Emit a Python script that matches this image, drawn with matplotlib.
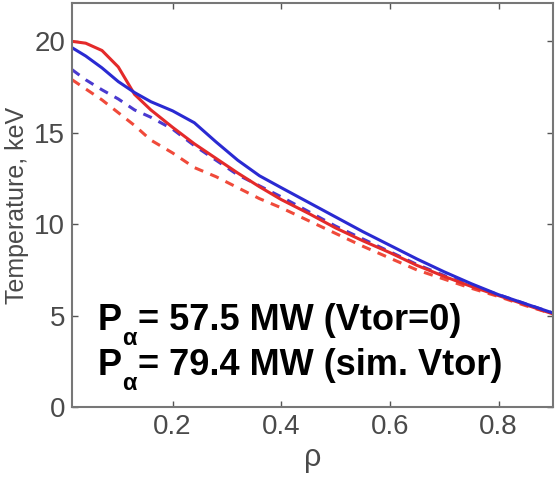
import matplotlib
matplotlib.use("Agg")
import matplotlib.pyplot as plt

# Profile data
rho = [0.015, 0.04, 0.07, 0.1, 0.13, 0.16, 0.2, 0.24, 0.28, 0.32, 0.36, 0.4,
       0.45, 0.5, 0.55, 0.6, 0.65, 0.7, 0.75, 0.8, 0.85, 0.9]

te_blue = [19.65, 19.2, 18.55, 17.8, 17.2, 16.7, 16.2, 15.55, 14.5, 13.5, 12.65, 12.0,
           11.2, 10.4, 9.6, 8.85, 8.1, 7.4, 6.75, 6.15, 5.65, 5.15]
ti_blue = [18.45, 17.9, 17.35, 16.85, 16.25, 15.85, 15.2, 14.3, 13.5, 12.7, 12.1, 11.5,
           10.7, 9.9, 9.2, 8.5, 7.8, 7.2, 6.65, 6.15, 5.65, 5.15]
te_red = [20.0, 19.9, 19.5, 18.6, 17.1, 16.25, 15.3, 14.4, 13.6, 12.8, 12.05, 11.35,
          10.6, 9.8, 9.1, 8.45, 7.75, 7.15, 6.6, 6.1, 5.6, 5.1]
ti_red = [17.9, 17.4, 16.8, 16.1, 15.4, 14.6, 13.9, 13.1, 12.6, 12.0, 11.4, 10.9,
          10.2, 9.5, 8.8, 8.15, 7.5, 7.0, 6.5, 6.05, 5.55, 5.1]

x_ticks = [0.2, 0.4, 0.6, 0.8]
y_ticks = [0, 5, 10, 15, 20]

labels_power = ["= 57.5 MW (Vtor=0)", "= 79.4 MW (sim. Vtor)"]

plt.rcParams["font.family"] = ["Liberation Sans", "DejaVu Sans"]

fig = plt.figure(figsize=(5.59, 4.90), dpi=100)
ax = fig.add_axes([0.129, 0.169, 0.860, 0.825])

blue = "#2a2ad2"
red = "#e42a2a"
ax.plot(rho, ti_red, color="#f04a3a", lw=2.2, ls=(0, (3, 2.5)))
ax.plot(rho, ti_blue, color="#4a3ad0", lw=2.2, ls=(0, (3, 2.5)))
ax.plot(rho, te_red, color=red, lw=2.2)
ax.plot(rho, te_blue, color=blue, lw=2.2)

ax.set_xlim(0.015, 0.9)
ax.set_ylim(0, 22.1)
ax.set_xticks(x_ticks)
ax.set_xticklabels(["0.2", "0.4", "0.6", "0.8"])
ax.set_yticks(y_ticks)

grey = "#555555"
ax.tick_params(direction="in", length=4, width=1, color=grey, labelcolor="#4a4a4a",
               labelsize=20, top=True, right=True, pad=5)
for s in ax.spines.values():
    s.set_color("#777777")
    s.set_linewidth(1.5)

ax.set_ylabel("Temperature, keV", fontsize=18, color="#4a4a4a")
ax.yaxis.set_label_coords(-0.09, 0.5)
ax.set_xlabel("ρ", fontsize=22, color="#4a4a4a", labelpad=2)

# P_alpha annotations: P, lowered alpha, then the rest of the line
for y0, rest in zip([4.2, 1.75], labels_power):
    tp = ax.text(0.0625, y0, "P", fontsize=26, fontweight="bold", color="black",
                 va="baseline")
    ta = ax.annotate("α", xy=(1, 0), xycoords=tp, xytext=(0.5, -5),
                     textcoords="offset points", fontsize=17, fontweight="bold",
                     va="baseline", ha="left")
    ax.annotate(rest, xy=(1, 0), xycoords=(ta, tp), xytext=(0.5, 0),
                textcoords="offset points", fontsize=26, fontweight="bold",
                va="bottom", ha="left")

fig.savefig("out.png", dpi=100)
